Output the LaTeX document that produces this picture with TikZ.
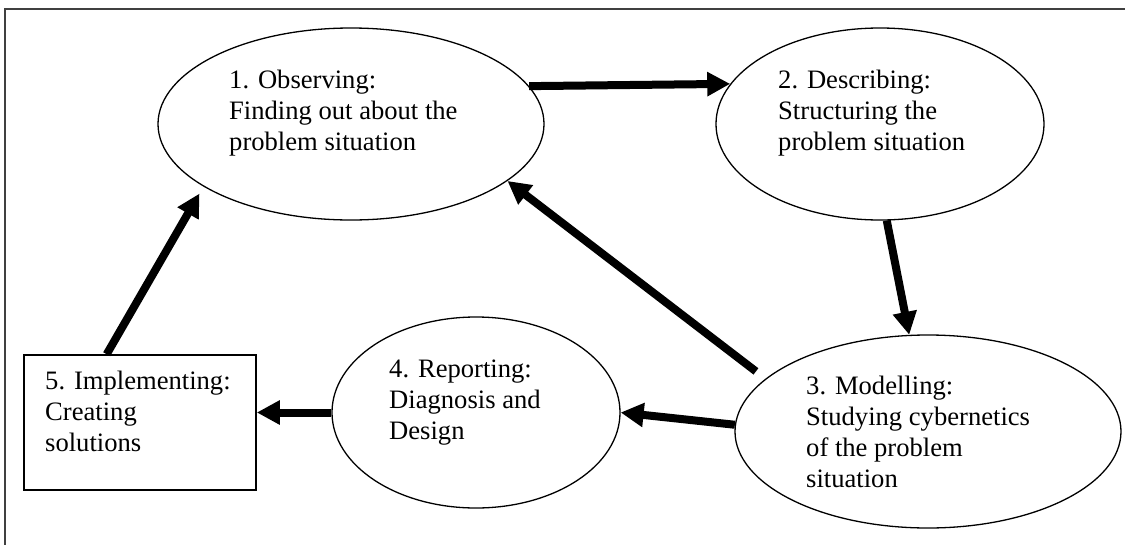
\documentclass[tikz,border=0pt]{standalone}
\usepackage{fontspec}
\setmainfont{Liberation Serif}
\usetikzlibrary{arrows.meta,shapes.geometric}
\begin{document}
\begin{tikzpicture}[x=1pt,y=-1pt,
  stage/.style={ellipse, draw, line width=1.3pt, inner sep=0pt},
  boxstage/.style={rectangle, draw, line width=1.6pt, inner sep=0pt},
  % anchored at the baseline of the last line
  txt/.style={anchor=base west, align=left, inner sep=0pt,
              font=\fontsize{26.6}{31}\selectfont},
  flow/.style={line width=8pt, -{Triangle[length=23pt,width=23pt]}}
]
\useasboundingbox (0,0) rectangle (1125,544);
\clip (0,0) rectangle (1125,544);
% outer frame
\draw[line width=2pt, black!75] (5,9) rectangle (1140,560);

% stages of the cycle
\node[stage, minimum width=386pt, minimum height=192pt] (e1) at (351,124) {};
\node[stage, minimum width=328pt, minimum height=192pt] (e2) at (880,124) {};
\node[stage, minimum width=386pt, minimum height=193pt] (e3) at (928,431.5) {};
\node[stage, minimum width=288pt, minimum height=191pt] (e4) at (476,412.5) {};
\node[boxstage, minimum width=232pt, minimum height=135pt] (r5) at (140,422.5) {};

% stage texts
\node[txt] (t1) at (229,150) {1. Observing:\\Finding out about the\\problem situation};
\node[txt] (t2) at (778,150) {2. Describing:\\Structuring the\\problem situation};
\node[txt] (t3) at (806,487.5) {3. Modelling:\\Studying cybernetics\\of the problem\\situation};
\node[txt] (t4) at (389,439) {4. Reporting:\\Diagnosis and\\Design};
\node[txt] (t5) at (45,451) {5. Implementing:\\Creating\\solutions};

% flows between stages
\draw[flow] (e1.12.5) -- (e2.165.3);
\draw[flow] (e2.274.8) -- (e3.101.7);
\draw[flow, shorten <=12pt] (e3.162.8) -- (e1.-20.6);
\draw[flow] (e3.178) -- (e4.0);
\draw[flow] (e4.180) -- (e4.180 -| r5.east);
\draw[flow, shorten >=8pt] (r5.116.7) -- (e1.203.75);
\end{tikzpicture}
\end{document}
